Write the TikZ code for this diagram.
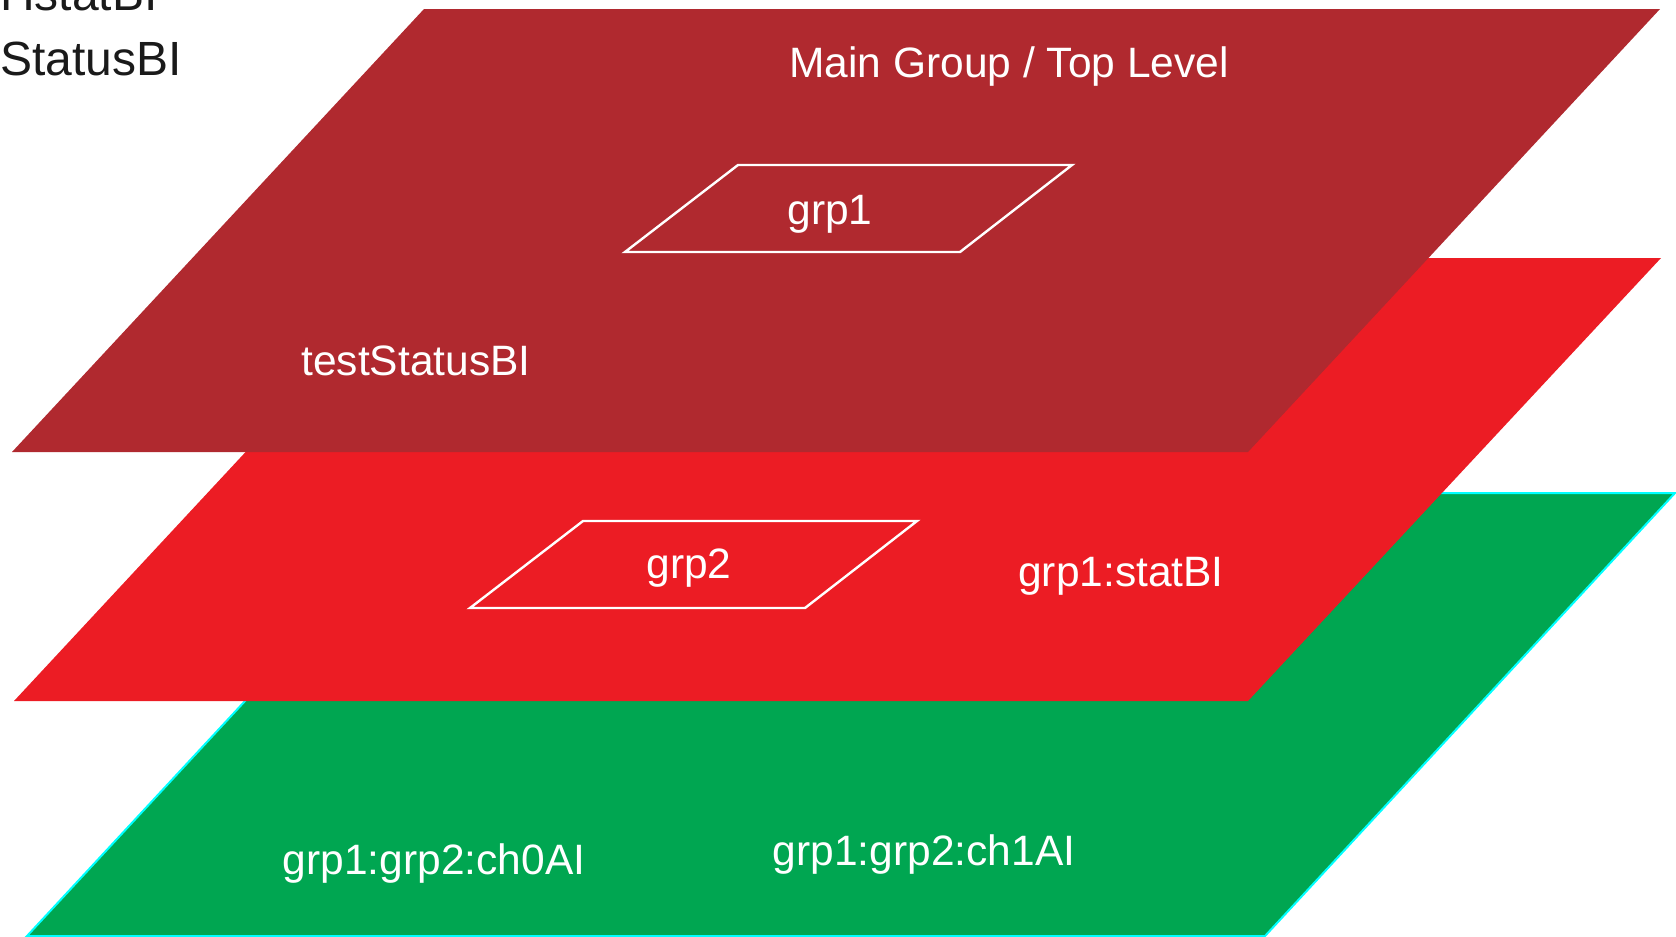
\documentclass[tikz,border=0pt]{standalone}
\usepackage{fontspec}
\setmainfont{Liberation Sans}
\definecolor{layerTop}{RGB}{176,41,47}
\definecolor{layerMid}{RGB}{236,28,36}
\definecolor{layerLow}{RGB}{0,166,81}
\definecolor{edgeCyan}{RGB}{0,255,255}
\definecolor{inkDark}{RGB}{26,26,26}
\tikzset{
  plane/.style={draw=none},
  groupframe/.style={draw=white, line width=2.4pt, line join=miter},
  lbl/.style={inner sep=0pt, anchor=base, text=white,
    font=\fontsize{42.5}{50}\selectfont},
  sidelbl/.style={inner sep=0pt, anchor=base west, text=inkDark,
    font=\fontsize{48}{56}\selectfont}
}
\begin{document}
\begin{tikzpicture}[x=1pt, y=-1pt]
\useasboundingbox (0,0) rectangle (1676,937);

% bottom layer
\fill[layerLow] (438,493) -- (1675,493) -- (1265,936) -- (27,936) -- cycle;
\draw[edgeCyan, line width=2pt] (438,493) -- (1675,493) -- (1265,936) -- (27,936) -- cycle;

% middle layer
\fill[layerMid] (426,258) -- (1661,258) -- (1248,701) -- (14,701) -- cycle;

% top layer
\fill[layerTop] (424,9) -- (1660,9) -- (1248,452) -- (12,452) -- cycle;

% inner group frames
\draw[groupframe] (738,165) -- (1072,165) -- (960,252) -- (625,252) -- cycle;
\draw[groupframe] (583,521) -- (917,521) -- (805,608) -- (470,608) -- cycle;

% labels
\node[lbl] (title) at (1009,77) {Main Group / Top Level};
\node[lbl] (g1) at (830,224) {grp1};
\node[lbl] (tsb) at (416,375) {testStatusBI};
\node[lbl] (g2) at (689,578) {grp2};
\node[lbl] (sbi) at (1121,586) {grp1:statBI};
\node[lbl] (ch0) at (434,874) {grp1:grp2:ch0AI};
\node[lbl] (ch1) at (924,865) {grp1:grp2:ch1AI};

% side list
\node[sidelbl] (side0) at (0,10) {HstatBI};
\node[sidelbl] (side1) at (0,75) {StatusBI};
\end{tikzpicture}
\end{document}
